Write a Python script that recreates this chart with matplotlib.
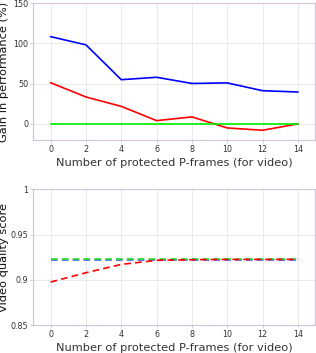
import matplotlib
matplotlib.use("Agg")
import matplotlib.pyplot as plt

frames = [0, 2, 4, 6, 8, 10, 12, 14]
gain_blue = [108.5, 98.3, 55.0, 58.0, 50.3, 51.0, 41.3, 39.7]
gain_red = [51.2, 33.5, 21.8, 4.1, 8.7, -5.0, -7.9, 0.0]
gain_green = [0, 0, 0, 0, 0, 0, 0, 0]

q_blue = [0.9218, 0.9218, 0.9218, 0.9218, 0.9218, 0.9218, 0.9218, 0.9218]
q_green = [0.9225, 0.9225, 0.9225, 0.9225, 0.9225, 0.9225, 0.9225, 0.9225]
q_red = [0.8975, 0.9078, 0.9170, 0.9215, 0.9222, 0.9225, 0.9225, 0.9225]

xticks = [0, 2, 4, 6, 8, 10, 12, 14]
yticks_top = [0, 50, 100, 150]
yticks_bot = [0.85, 0.9, 0.95, 1]
yticklabels_bot = ["0.85", "0.9", "0.95", "1"]

plt.rcParams['font.family'] = ['DejaVu Sans']
fig = plt.figure(figsize=(3.16, 3.53), dpi=100)
spine_c = '#cfc3dc'
tick_c = '#333333'

def style(ax):
    for s in ax.spines.values():
        s.set_color(spine_c)
        s.set_linewidth(0.8)
    ax.grid(True, color='#e6e6e6', linewidth=0.6)
    ax.set_axisbelow(True)
    ax.tick_params(axis='both', labelsize=5.8, colors=spine_c, labelcolor=tick_c,
                   length=2, width=0.6, pad=1.5)
    ax.set_xlim(-1, 15)
    ax.set_xticks(xticks)
    ax.set_xlabel("Number of protected P-frames (for video)", fontsize=8.2,
                  color='#333333', labelpad=3)

ax1 = fig.add_axes([0.1044, 0.6034, 0.894, 0.3873])
style(ax1)
ax1.plot(frames, gain_blue, color='#0000ff', lw=1.2)
ax1.plot(frames, gain_red, color='#ff0000', lw=1.2)
ax1.plot(frames, gain_green, color='#00ee00', lw=1.2)
ax1.set_ylim(-20, 150)
ax1.set_yticks(yticks_top)
ax1.set_ylabel("Gain in performance (%)", fontsize=8.2, color='#111111')
ax1.yaxis.set_label_coords(-0.084, 0.5)

ax2 = fig.add_axes([0.1044, 0.0793, 0.894, 0.3844])
style(ax2)
ax2.plot(frames, q_blue, color='#4060ff', lw=1.2, ls=(0, (4, 2.5)))
ax2.plot(frames, q_green, color='#22dd22', lw=1.2, ls=(0, (4, 2.5)))
ax2.plot(frames, q_red, color='#ff0000', lw=1.2, ls=(0, (4, 2.5)))
ax2.set_ylim(0.85, 1)
ax2.set_yticks(yticks_bot)
ax2.set_yticklabels(yticklabels_bot)
ax2.set_ylabel("Video quality score", fontsize=8.2, color='#111111')
ax2.yaxis.set_label_coords(-0.084, 0.5)

fig.savefig("out.png", dpi=100)
